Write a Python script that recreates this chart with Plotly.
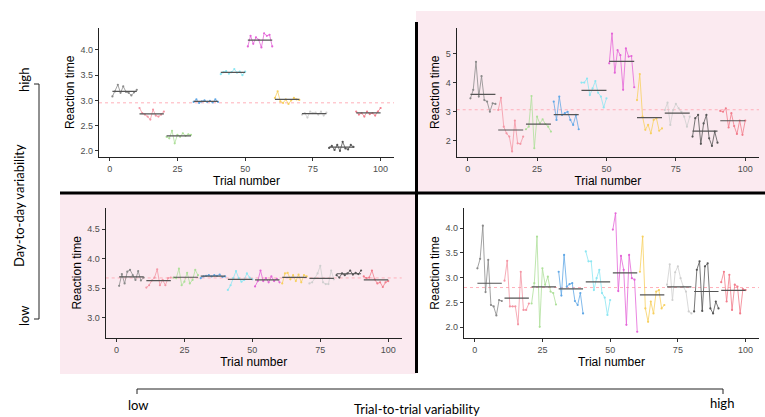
import plotly.graph_objects as go

W, H = 765, 417

# ---------------- data ----------------
trials = list(range(1, 101))
n_days = 10
trials_per_day = 10

low_trial_high_day = [  # top-left
    3.08, 3.18, 3.31, 3.15, 3.28, 3.17, 3.15, 3.10, 3.16, 3.21,
    2.85, 2.75, 2.72, 2.68, 2.62, 2.82, 2.70, 2.68, 2.72, 2.78,
    2.28, 2.25, 2.40, 2.15, 2.32, 2.28, 2.35, 2.30, 2.33, 2.32,
    2.97, 3.02, 2.95, 2.98, 3.00, 2.97, 2.99, 2.96, 3.02, 2.97,
    3.52, 3.56, 3.58, 3.53, 3.56, 3.62, 3.55, 3.57, 3.50, 3.57,
    4.07, 4.28, 4.12, 4.25, 4.20, 4.05, 4.33, 4.28, 4.30, 4.07,
    3.05, 3.18, 2.98, 2.95, 3.02, 2.93, 3.00, 3.05, 3.02, 3.01,
    2.72, 2.75, 2.66, 2.78, 2.75, 2.76, 2.72, 2.78, 2.70, 2.76,
    2.06, 2.10, 2.02, 2.12, 2.00, 2.18, 2.05, 2.03, 2.12, 2.08,
    2.78, 2.72, 2.75, 2.68, 2.78, 2.73, 2.75, 2.70, 2.78, 2.85,
]

high_trial_high_day = [  # top-right
    3.46, 3.75, 4.71, 3.52, 4.22, 3.40, 3.35, 3.00, 3.29, 3.27,
    3.06, 3.48, 2.49, 2.26, 2.15, 1.64, 2.70, 1.92, 1.90, 2.15,
    2.40, 2.49, 3.54, 1.75, 2.83, 2.60, 2.74, 2.58, 2.49, 2.32,
    3.35, 2.72, 3.52, 2.89, 2.95, 3.00, 2.72, 2.55, 2.89, 2.40,
    4.00, 4.00, 4.14, 3.57, 3.80, 4.05, 3.65, 3.52, 3.15, 3.46,
    4.66, 5.68, 4.34, 5.11, 4.94, 3.75, 5.17, 4.89, 4.91, 3.84,
    3.40, 4.29, 2.83, 2.38, 2.55, 2.26, 2.72, 2.78, 2.35, 2.43,
    3.06, 3.31, 2.55, 3.06, 3.27, 3.12, 3.00, 2.83, 2.49, 2.83,
    2.15, 2.78, 2.89, 1.90, 2.60, 2.89, 2.09, 1.83, 2.32, 1.94,
    3.03, 3.00, 3.12, 2.46, 2.95, 2.51, 2.24, 2.70, 2.21, 2.70,
]

low_trial_low_day = [  # bottom-left
    3.54, 3.74, 3.58, 3.78, 3.81, 3.72, 3.64, 3.79, 3.63, 3.68,
    3.51, 3.55, 3.63, 3.68, 3.82, 3.55, 3.64, 3.55, 3.67, 3.68,
    3.68, 3.67, 3.83, 3.55, 3.61, 3.76, 3.58, 3.64, 3.81, 3.72,
    3.67, 3.70, 3.71, 3.72, 3.70, 3.72, 3.71, 3.73, 3.69, 3.70,
    3.47, 3.55, 3.67, 3.79, 3.67, 3.61, 3.64, 3.75, 3.68, 3.65,
    3.53, 3.62, 3.80, 3.62, 3.67, 3.60, 3.70, 3.62, 3.66, 3.60,
    3.58, 3.75, 3.76, 3.65, 3.72, 3.62, 3.73, 3.60, 3.72, 3.70,
    3.58, 3.60, 3.67, 3.75, 3.88, 3.60, 3.57, 3.57, 3.80, 3.65,
    3.72, 3.68, 3.75, 3.72, 3.75, 3.80, 3.73, 3.76, 3.74, 3.80,
    3.70, 3.67, 3.68, 3.80, 3.65, 3.58, 3.60, 3.52, 3.60, 3.62,
]

high_trial_low_day = [  # bottom-right
    3.19, 3.38, 4.05, 2.71, 3.36, 2.45, 2.42, 2.24, 2.55, 2.53,
    2.94, 3.34, 2.42, 2.42, 2.42, 2.06, 3.12, 2.35, 2.35, 2.48,
    2.48, 2.89, 3.83, 2.01, 3.19, 2.86, 3.02, 2.72, 2.69, 2.46,
    3.12, 2.64, 3.46, 2.82, 2.87, 2.89, 2.53, 2.45, 2.69, 2.28,
    3.53, 3.33, 3.33, 2.75, 2.99, 3.16, 2.69, 2.60, 2.25, 2.55,
    3.97, 4.30, 2.73, 3.44, 3.16, 2.05, 3.46, 2.99, 2.96, 1.91,
    3.12, 3.83, 2.38, 2.11, 2.52, 2.28, 2.72, 2.75, 2.38, 2.45,
    2.86, 3.27, 2.55, 3.11, 3.23, 2.99, 2.82, 2.72, 2.32, 2.28,
    2.32, 3.16, 3.33, 2.33, 3.23, 3.29, 2.38, 2.28, 2.52, 2.38,
    2.91, 3.12, 2.52, 3.06, 2.35, 2.86, 2.82, 2.28, 2.77, 2.75,
]

x_ticks = [0, 25, 50, 75, 100]
y_ticks_tl = [2.0, 2.5, 3.0, 3.5, 4.0]
y_ticks_tr = [2, 3, 4, 5]
y_ticks_bl = [3.0, 3.5, 4.0, 4.5]
y_ticks_br = [2.0, 2.5, 3.0, 3.5, 4.0]

day_colors = ["#8a8a8a", "#f497a5", "#aee09a", "#62a8e6", "#8ce6f2",
              "#e466d8", "#f7d060", "#cfcfcf", "#555555", "#f27d8c"]

# ---------------- layout geometry ----------------
def px_x(a, b):
    return [a / W, b / W]

def px_y(top, bottom):
    return [1 - bottom / H, 1 - top / H]

panels = [
    dict(rt=low_trial_high_day, xd=px_x(99, 394), yd=px_y(27.7, 157),
         yr=[1.88, 4.44], yt=y_ticks_tl, fmt=".1f"),
    dict(rt=high_trial_high_day, xd=px_x(456.7, 759), yd=px_y(28, 156.7),
         yr=[1.46, 5.87], yt=y_ticks_tr, fmt="d"),
    dict(rt=low_trial_low_day, xd=px_x(105.7, 401.7), yd=px_y(208, 337.7),
         yr=[2.66, 4.86], yt=y_ticks_bl, fmt=".1f"),
    dict(rt=high_trial_low_day, xd=px_x(464, 759), yd=px_y(208.3, 337.7),
         yr=[1.79, 4.40], yt=y_ticks_br, fmt=".1f"),
]

fig = go.Figure()
layout = dict(
    width=W, height=H, margin=dict(l=0, r=0, t=0, b=0),
    paper_bgcolor="white", plot_bgcolor="rgba(0,0,0,0)",
    showlegend=False, shapes=[], annotations=[],
    font=dict(family="Liberation Sans, Arial, sans-serif"),
)

tick_font = dict(family="Liberation Sans, Arial, sans-serif", size=9, color="#4d4d4d")
title_font = dict(family="Liberation Sans, Arial, sans-serif", size=12, color="black")

for i, p in enumerate(panels, start=1):
    xa = "x" if i == 1 else f"x{i}"
    ya = "y" if i == 1 else f"y{i}"
    rt = p["rt"]
    for d in range(n_days):
        xs = trials[d * trials_per_day:(d + 1) * trials_per_day]
        ys = rt[d * trials_per_day:(d + 1) * trials_per_day]
        c = day_colors[d]
        fig.add_trace(go.Scatter(
            x=xs, y=ys, mode="lines+markers", xaxis=xa, yaxis=ya,
            line=dict(color=c, width=0.8), marker=dict(color=c, size=2.2),
            hoverinfo="skip"))
        m = sum(ys) / len(ys)
        fig.add_trace(go.Scatter(
            x=[xs[0], xs[-1]], y=[m, m], mode="lines", xaxis=xa, yaxis=ya,
            line=dict(color="#555555", width=1.2), hoverinfo="skip"))
    grand = sum(rt) / len(rt)
    layout["shapes"].append(dict(
        type="line", xref=f"{xa} domain", yref=ya, x0=0, x1=1, y0=grand, y1=grand,
        line=dict(color="#ffb0ba", width=1, dash="dot"), layer="below"))

    kx = "xaxis" if i == 1 else f"xaxis{i}"
    ky = "yaxis" if i == 1 else f"yaxis{i}"
    common = dict(showline=True, linecolor="#222222", linewidth=1.2, ticks="outside",
                  ticklen=3, tickcolor="#333333", tickwidth=1, showgrid=False,
                  zeroline=False, tickfont=tick_font, fixedrange=True)
    layout[kx] = dict(common, domain=p["xd"], anchor=ya, range=[-3.95, 104.95],
                      tickvals=x_ticks, ticktext=[str(v) for v in x_ticks],
                      title=dict(text="Trial number", font=title_font, standoff=3))
    layout[ky] = dict(common, domain=p["yd"], anchor=xa, range=p["yr"],
                      tickvals=p["yt"], tickformat=p["fmt"],
                      title=dict(text="Reaction time", font=title_font, standoff=3))

# pink backgrounds
pink = "#fbeaf0"
layout["shapes"].insert(0, dict(type="rect", xref="paper", yref="paper",
                                x0=416 / W, x1=1, y0=1 - 192 / H, y1=1 - 11 / H,
                                fillcolor=pink, line=dict(width=0), layer="below"))
layout["shapes"].insert(0, dict(type="rect", xref="paper", yref="paper",
                                x0=60 / W, x1=416 / W, y0=1 - 374 / H, y1=1 - 192 / H,
                                fillcolor=pink, line=dict(width=0), layer="below"))
# black dividers
layout["shapes"].append(dict(type="line", xref="paper", yref="paper",
                             x0=60 / W, x1=1, y0=1 - 193 / H, y1=1 - 193 / H,
                             line=dict(color="black", width=3), layer="above"))
layout["shapes"].append(dict(type="line", xref="paper", yref="paper",
                             x0=416.5 / W, x1=416.5 / W, y0=1 - 373 / H, y1=1 - 22 / H,
                             line=dict(color="black", width=3), layer="above"))

# brackets
br = dict(color="#222222", width=1)
for (x0, y0, x1, y1) in [(39, 84, 39, 319), (34, 84, 39, 84), (34, 319, 39, 319)]:
    layout["shapes"].append(dict(type="line", xref="paper", yref="paper",
                                 x0=x0 / W, x1=x1 / W, y0=1 - y0 / H, y1=1 - y1 / H,
                                 line=br))
for (x0, y0, x1, y1) in [(137, 389, 723, 389), (137, 389, 137, 394), (723, 389, 723, 394)]:
    layout["shapes"].append(dict(type="line", xref="paper", yref="paper",
                                 x0=x0 / W, x1=x1 / W, y0=1 - y0 / H, y1=1 - y1 / H,
                                 line=br))

lab_font = dict(family="Lato, Noto Sans, sans-serif", size=13, color="black")

def ann(text, x, y, angle=0):
    layout["annotations"].append(dict(text=text, x=x / W, y=1 - y / H, xref="paper",
                                      yref="paper", showarrow=False, textangle=angle,
                                      font=lab_font, xanchor="center", yanchor="middle"))

ann("high", 24, 80, -90)
ann("Day-to-day variability", 19, 206, -90)
ann("low", 24, 316, -90)
ann("low", 138, 405)
ann("high", 722, 403)
ann("Trial-to-trial variability", 417, 409)

fig.update_layout(**layout)
fig.write_html("out.html", config={"displayModeBar": False, "staticPlot": True},
               post_script="document.body.style.margin='0';document.body.style.overflow='hidden';")
